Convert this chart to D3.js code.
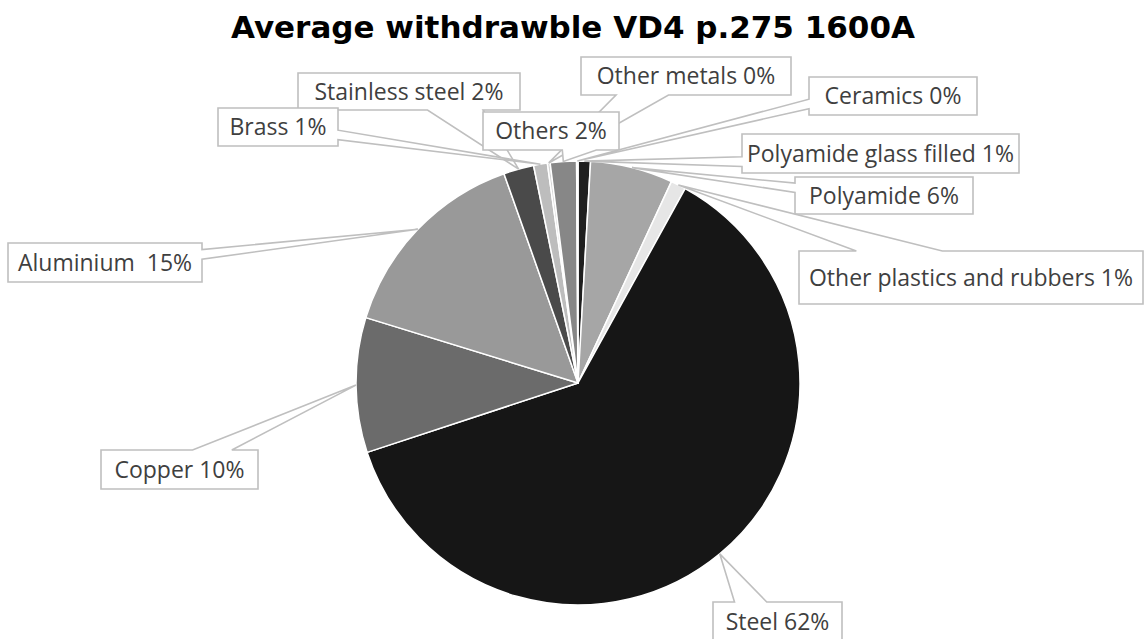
<!DOCTYPE html>
<html>
<head>
<meta charset="utf-8">
<script src="https://cdn.jsdelivr.net/npm/d3@7"></script>
<style>
  body { margin: 0; background: #fff; }
  svg { display: block; }
  .title { font-family: "DejaVu Sans", sans-serif; font-weight: 700; font-size: 31px; fill: #000; }
  .callout path { fill: #fff; stroke: #bfbfbf; stroke-width: 1.6px; }
  .callout text { font-family: "Open Sans", sans-serif; font-size: 23px; fill: #3f3f3f; white-space: pre; }
</style>
</head>
<body>
<svg id="chart"></svg>
<script>
(function() {

  // slices, clockwise from 12 o'clock
  var categories = [
    "Polyamide glass filled", "Polyamide", "Other plastics and rubbers", "Steel",
    "Copper", "Aluminium ", "Stainless steel", "Brass", "Other metals", "Others", "Ceramics"
  ];
  var shares = [0.9, 6.0, 1.1, 61.8, 9.8, 14.8, 2.2, 1.0, 0.2, 1.9, 0.1];
  var shades = [
    "#1f1f1f", "#a6a6a6", "#e6e6e6", "#161616",
    "#6b6b6b", "#999999", "#4a4a4a", "#bdbdbd", "#d6d6d6", "#878787", "#eeeeee"
  ];

  // callout boxes [x, y, w, h], same order as categories
  var boxes = [
    [742, 134, 277, 39], [795, 177, 178, 37], [799, 251, 344, 53], [713, 602, 129, 40],
    [101, 450, 157, 39], [8, 243, 194, 39], [298, 73, 222, 37], [218, 108, 120, 38],
    [581, 57, 210, 38], [483, 112, 136, 38], [809, 77, 168, 38]
  ];

  var width = 1145, height = 639,
      cx = 578, cy = 383, radius = 222;

  var svg = d3.select("#chart").attr("width", width).attr("height", height);

  svg.append("text")
      .attr("class", "title")
      .attr("x", 573)
      .attr("y", 38)
      .attr("text-anchor", "middle")
      .text("Average withdrawble VD4 p.275 1600A");

  var total = d3.sum(shares);
  var pct = d3.format(".0%");

  var pie = d3.pie().sort(null).value(function(d) { return d; });
  var arcs = pie(shares);

  var arc = d3.arc().innerRadius(0).outerRadius(radius);
  var rim = d3.arc().innerRadius(radius).outerRadius(radius);

  var g = svg.append("g").attr("transform", "translate(" + cx + "," + cy + ")");

  g.selectAll("path.slice")
    .data(arcs)
    .enter().append("path")
      .attr("class", "slice")
      .attr("d", arc)
      .attr("fill", function(d, i) { return shades[i]; })
      .attr("stroke", "#fff")
      .attr("stroke-width", 1.5)
      .attr("stroke-linejoin", "round");

  // rectangle callout with a wedge, same rules as the office shape
  var calloutPoints = function(b, ax, ay) {
    var x0 = b[0], y0 = b[1], w = b[2], h = b[3];
    var dx = ax - (x0 + w / 2), dy = ay - (y0 + h / 2);
    var dq = dx * h / w;
    var dz = Math.abs(dy) - Math.abs(dq);
    var x1 = x0 + w * (dx > 0 ? 7 : 2) / 12, x2 = x0 + w * (dx > 0 ? 10 : 5) / 12;
    var y1 = y0 + h * (dy > 0 ? 7 : 2) / 12, y2 = y0 + h * (dy > 0 ? 10 : 5) / 12;
    var R = x0 + w, B = y0 + h;
    if (dz > 0) {
      if (dy < 0) return [[x0, y0], [x1, y0], [ax, ay], [x2, y0], [R, y0], [R, B], [x0, B]];
      return [[x0, y0], [R, y0], [R, B], [x2, B], [ax, ay], [x1, B], [x0, B]];
    }
    if (dx < 0) return [[x0, y0], [R, y0], [R, B], [x0, B], [x0, y2], [ax, ay], [x0, y1]];
    return [[x0, y0], [R, y0], [R, y1], [ax, ay], [R, y2], [R, B], [x0, B]];
  };

  var line = d3.line();

  var callouts = svg.append("g")
    .selectAll("g.callout")
    .data(arcs)
    .enter().append("g")
      .attr("class", "callout");

  callouts.append("path")
      .attr("d", function(d, i) {
        var p = rim.centroid(d);
        return line(calloutPoints(boxes[i], cx + p[0], cy + p[1])) + "Z";
      });

  callouts.append("text")
      .attr("x", function(d, i) { return boxes[i][0] + boxes[i][2] / 2; })
      .attr("y", function(d, i) { return boxes[i][1] + boxes[i][3] / 2; })
      .attr("dy", "0.35em")
      .attr("text-anchor", "middle")
      .text(function(d, i) { return categories[i] + " " + pct(shares[i] / total); });

}());
</script>
</body>
</html>
